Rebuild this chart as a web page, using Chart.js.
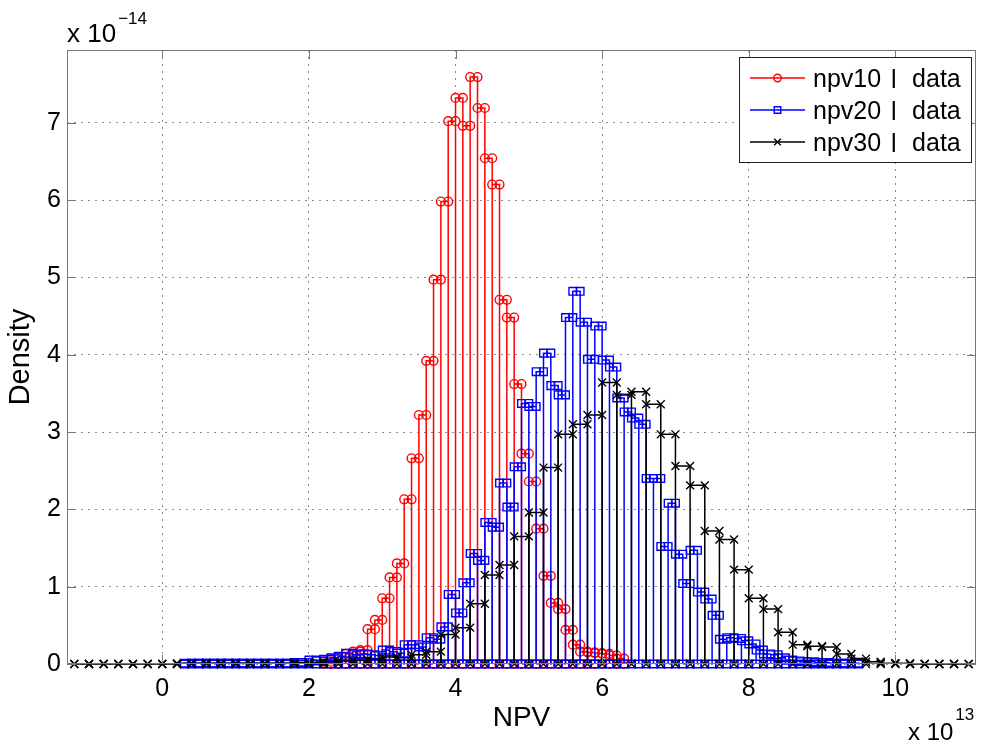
<!DOCTYPE html>
<html>
<head>
<meta charset="utf-8">
<title>NPV density</title>
<script src="https://cdn.jsdelivr.net/npm/chart.js@4.4.1/dist/chart.umd.min.js"></script>
<style>
  html, body { margin: 0; padding: 0; background: #fff; }
  canvas { display: block; }
</style>
</head>
<body>
<canvas id="npvChart" width="983" height="745"></canvas>
<script>
// histogram densities (x in units of 1e13, y in units of 1e-14)
const xTicks = [0, 2, 4, 6, 8, 10];
const yTicks = [0, 1, 2, 3, 4, 5, 6, 7];
const seriesNames = ['npv10', 'npv20', 'npv30'];

const npv10Start = 2.2;
const npv10Width = 0.1;
const npv10Density = [
  0.03, 0.06, 0.09, 0.13, 0.16, 0.18, 0.45, 0.57, 0.85, 1.12,
  1.30, 2.13, 2.66, 3.22, 3.92, 4.97, 5.98, 7.02, 7.32, 6.96,
  7.59, 7.19, 6.54, 6.20, 4.71, 4.48, 3.62, 2.72, 2.36, 1.75,
  1.14, 0.79, 0.71, 0.44, 0.25, 0.16, 0.15, 0.14, 0.13, 0.11,
  0.07
];

const npv20Start = 0.3;
const npv20Width = 0.1;
const npv20Density = [
  0.01, 0.01, 0.01, 0.01, 0.01, 0.01, 0.01, 0.01, 0.01, 0.01,
  0.01, 0.01, 0.01, 0.01, 0.01, 0.02, 0.02, 0.05, 0.04, 0.06,
  0.08, 0.10, 0.14, 0.12, 0.13, 0.12, 0.11, 0.18, 0.16, 0.14,
  0.25, 0.25, 0.22, 0.34, 0.32, 0.48, 0.90, 0.66, 1.05, 1.43,
  1.34, 1.83, 1.77, 2.34, 2.03, 2.55, 3.37, 3.33, 3.78, 4.02,
  3.60, 3.48, 4.48, 4.82, 4.42, 3.94, 4.37, 3.93, 3.84, 3.44,
  3.26, 3.18, 3.10, 2.40, 2.40, 1.52, 2.08, 1.42, 1.04, 1.47,
  0.93, 0.84, 0.63, 0.32, 0.34, 0.33, 0.30, 0.26, 0.18, 0.13,
  0.12, 0.08, 0.05, 0.04, 0.03, 0.03, 0.02, 0.02, 0.01, 0.01,
  0.01, 0.01
];

const npv30Start = -1.2;
const npv30Width = 0.2;
const npv30Density = [
  0, 0, 0, 0, 0, 0, 0, 0.01, 0.01, 0.01,
  0.01, 0.01, 0.01, 0.01, 0.01, 0.02, 0.02, 0.03, 0.04, 0.05,
  0.06, 0.09, 0.08, 0.12, 0.16, 0.38, 0.47, 0.78, 1.15, 1.28,
  1.65, 1.96, 2.54, 2.97, 3.10, 3.22, 3.64, 3.48, 3.52, 3.36,
  2.97, 2.56, 2.31, 1.72, 1.61, 1.22, 0.85, 0.71, 0.41, 0.25,
  0.23, 0.22, 0.13, 0.07, 0.03, 0.01, 0.01, 0, 0, 0,
  0
];

const FONT = '"Liberation Sans", Arial, Helvetica, sans-serif';

// turn bin heights into the outline matlab draws: up, across, down for every bin
function stairs(start, width, heights) {
  const pts = [{ x: start, y: 0 }];
  heights.forEach((h, i) => {
    const a = start + i * width;
    const b = start + (i + 1) * width;
    pts.push({ x: a, y: h }, { x: b, y: h }, { x: b, y: 0 });
  });
  return pts;
}

function makeSet(name, pts, color, style, radius, order) {
  return {
    label: name + '_l data',
    data: pts,
    showLine: true,
    borderColor: color,
    borderWidth: 1.5,
    pointStyle: style,
    pointRadius: radius,
    pointBorderColor: color,
    pointBorderWidth: 1.4,
    pointBackgroundColor: 'rgba(0,0,0,0)',
    pointHoverRadius: radius,
    tension: 0,
    clip: false,
    order: order
  };
}

const datasets = [
  makeSet(seriesNames[0], stairs(npv10Start, npv10Width, npv10Density), '#ff0000', 'circle', 4.4, 3),
  makeSet(seriesNames[1], stairs(npv20Start, npv20Width, npv20Density), '#0000ff', 'rect', 5.4, 2),
  makeSet(seriesNames[2], stairs(npv30Start, npv30Width, npv30Density), '#000000', 'crossRot', 5.6, 1)
];

// box, inward ticks, exponent labels and the matlab style legend
const matlabAxes = {
  id: 'matlabAxes',
  afterDraw(chart) {
    const { ctx, chartArea: a, scales } = chart;
    ctx.save();
    ctx.strokeStyle = '#777';
    ctx.lineWidth = 1;
    ctx.strokeRect(a.left + 0.5, a.top + 0.5, a.right - a.left - 1, a.bottom - a.top - 1);
    ctx.beginPath();
    xTicks.forEach(v => {
      const px = Math.round(scales.x.getPixelForValue(v)) + 0.5;
      ctx.moveTo(px, a.bottom); ctx.lineTo(px, a.bottom - 9);
      ctx.moveTo(px, a.top); ctx.lineTo(px, a.top + 9);
    });
    yTicks.forEach(v => {
      const py = Math.round(scales.y.getPixelForValue(v)) + 0.5;
      ctx.moveTo(a.left, py); ctx.lineTo(a.left + 9, py);
      ctx.moveTo(a.right, py); ctx.lineTo(a.right - 9, py);
    });
    ctx.stroke();

    // exponents
    ctx.fillStyle = '#000';
    ctx.textBaseline = 'alphabetic';
    ctx.textAlign = 'left';
    ctx.font = '26px ' + FONT;
    ctx.fillText('x 10', 67, 42);
    let w = ctx.measureText('x 10').width;
    ctx.font = '17px ' + FONT;
    ctx.fillText('\u221214', 67 + w + 2, 24);
    ctx.font = '24px ' + FONT;
    ctx.fillText('x 10', 908, 740);
    w = ctx.measureText('x 10').width;
    ctx.font = '17px ' + FONT;
    ctx.fillText('13', 908 + w + 2, 720);

    // legend
    const box = { x: 739.5, y: 57.5, w: 232, h: 105 };
    ctx.fillStyle = '#fff';
    ctx.fillRect(box.x, box.y, box.w, box.h);
    ctx.strokeStyle = '#222';
    ctx.strokeRect(box.x, box.y, box.w, box.h);
    const rows = [78, 110, 142];
    datasets.forEach((ds, i) => {
      const y = rows[i];
      ctx.strokeStyle = ds.borderColor;
      ctx.lineWidth = 1.5;
      ctx.beginPath();
      ctx.moveTo(750, y); ctx.lineTo(805, y);
      ctx.stroke();
      ctx.lineWidth = 1.4;
      ctx.fillStyle = 'rgba(0,0,0,0)';
      Chart.helpers.drawPoint(ctx, { pointStyle: ds.pointStyle, radius: ds.pointRadius * 0.85, rotation: 0, borderWidth: 1.4 }, 777.5, y);
      ctx.fillStyle = '#000';
      ctx.font = '25px ' + FONT;
      const x0 = 813;
      ctx.fillText(seriesNames[i], x0, y + 9);
      const w1 = ctx.measureText(seriesNames[i]).width;
      ctx.fillText('l', x0 + w1 + 10, y + 10);
      ctx.fillText('data', x0 + w1 + 31, y + 9);
    });
    ctx.restore();
  }
};

const ctx = document.getElementById('npvChart');

new Chart(ctx, {
  type: 'scatter',
  data: { datasets: datasets },
  options: {
    responsive: false,
    animation: false,
    devicePixelRatio: 1,
    layout: { padding: { top: 50, right: 3, left: 0, bottom: 0 } },
    plugins: {
      legend: { display: false },
      tooltip: { enabled: false }
    },
    scales: {
      x: {
        type: 'linear',
        min: -1.3,
        max: 11.1,
        afterBuildTicks: s => { s.ticks = xTicks.map(v => ({ value: v })); },
        afterFit: s => { s.height = 81; },
        ticks: { color: '#000', font: { family: FONT, size: 25 }, padding: 10, maxRotation: 0, autoSkip: false },
        grid: { color: '#8a8a8a', lineWidth: 1, drawTicks: false },
        border: { display: false, dash: [2, 5] },
        title: { display: true, text: 'NPV', color: '#000', font: { family: FONT, size: 28 }, padding: { top: 0, bottom: 10 } }
      },
      y: {
        type: 'linear',
        min: 0,
        max: 7.94,
        afterBuildTicks: s => { s.ticks = yTicks.map(v => ({ value: v })); },
        afterFit: s => { s.width = 67; },
        ticks: { color: '#000', font: { family: FONT, size: 25 }, padding: 6 },
        grid: { color: '#8a8a8a', lineWidth: 1, drawTicks: false },
        border: { display: false, dash: [2, 5] },
        title: { display: true, text: 'Density', color: '#000', font: { family: FONT, size: 29 }, padding: { top: 4, bottom: 0 } }
      }
    }
  },
  plugins: [matlabAxes]
});
</script>
</body>
</html>
